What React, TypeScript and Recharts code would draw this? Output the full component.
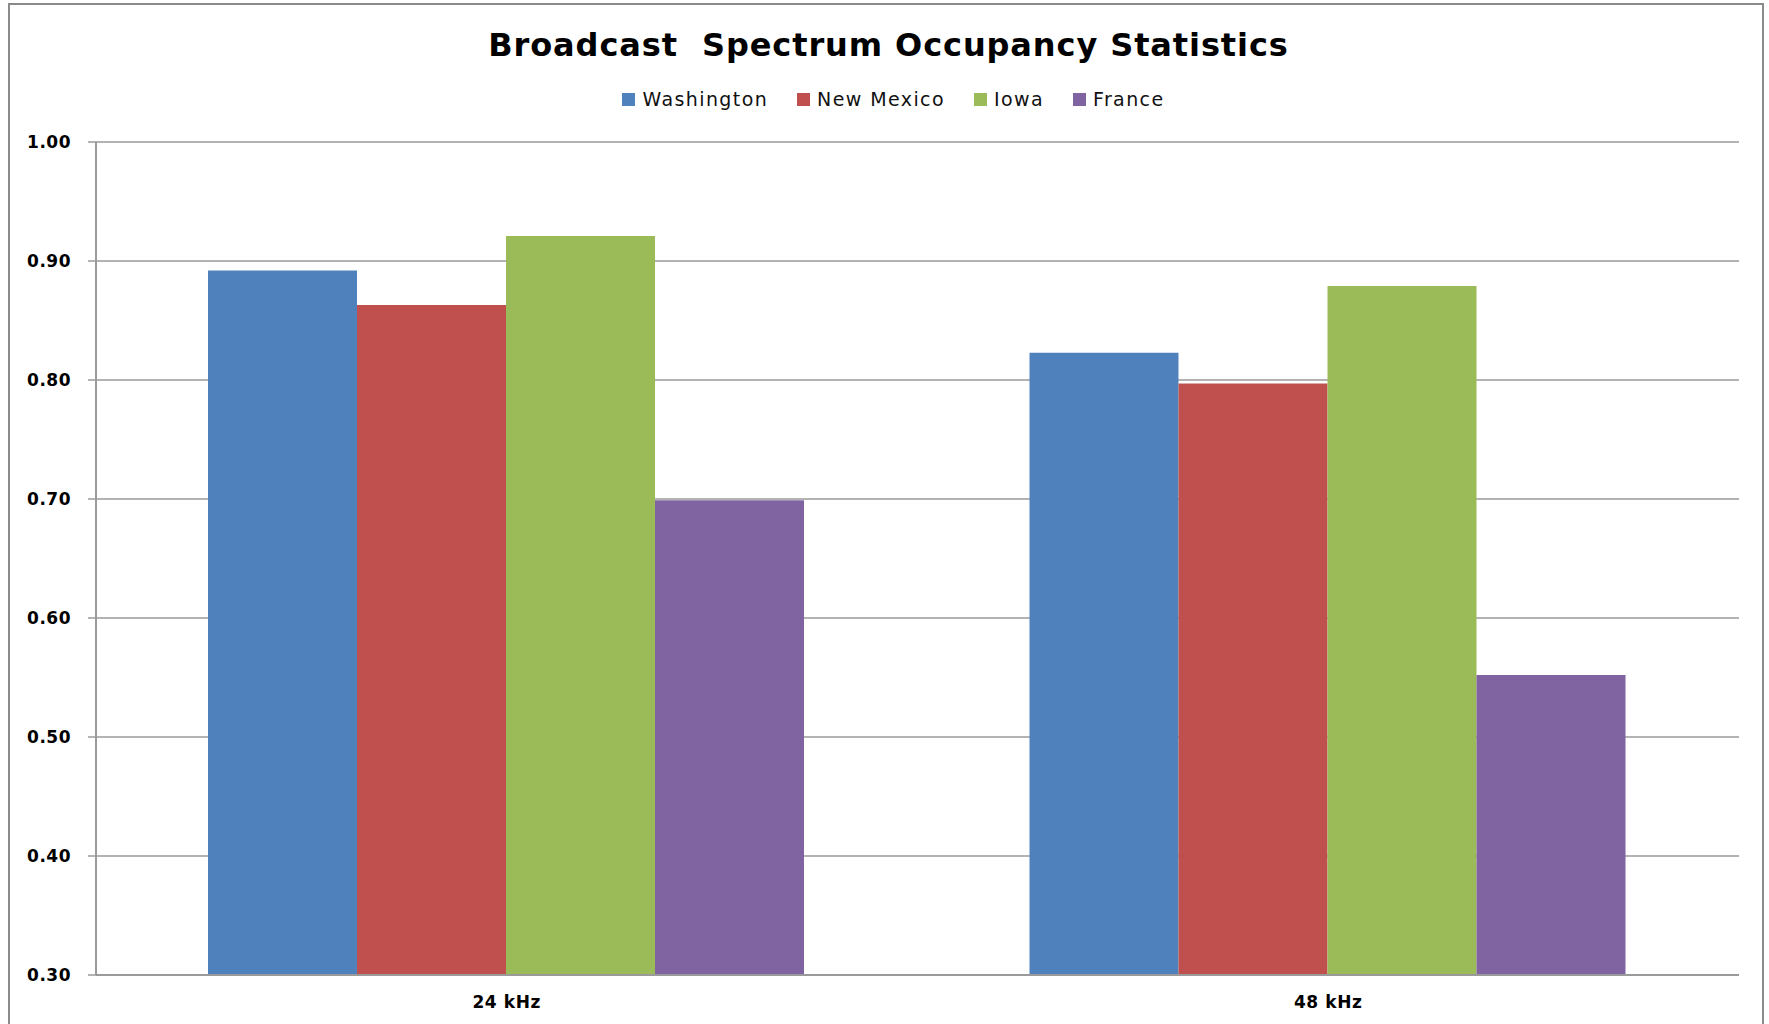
import React from 'react'
import { BarChart, Bar, XAxis, YAxis, CartesianGrid, Legend } from 'recharts'

const categories = ['24 kHz', '48 kHz']
const seriesNames = ['Washington', 'New Mexico', 'Iowa', 'France']
const seriesColors = ['#4F81BD', '#C0504D', '#9BBB59', '#8064A2']

const washington = [0.892, 0.823]
const newMexico = [0.863, 0.797]
const iowa = [0.921, 0.879]
const france = [0.699, 0.552]

const yTicks = [0.3, 0.4, 0.5, 0.6, 0.7, 0.8, 0.9, 1.0]

const seriesValues = [washington, newMexico, iowa, france]

const data = categories.map((c, i) => {
    const row: any = { name: c }
    seriesNames.forEach((s, j) => row[s] = seriesValues[j][i])
    return row
})

const FONT = '"DejaVu Sans", Verdana, sans-serif'
const GRID = '#9a9a9a'

function CatTick(props: any) {
    return (
        <text x={props.x} y={props.y + 20} textAnchor="middle" dominantBaseline="central"
            fontFamily={FONT} fontWeight="bold" fontSize={17} fill="#000" letterSpacing={0.6}>
            {props.payload.value}
        </text>
    )
}

function LegendBox() {
    return (
        <div style={{ display: 'flex', justifyContent: 'center', alignItems: 'center', paddingLeft: 18, fontFamily: FONT, fontSize: 19, letterSpacing: 1.4, color: '#111' }}>
            {seriesNames.map((s, i) => (
                <div key={s} style={{ display: 'flex', alignItems: 'center', marginRight: i < seriesNames.length - 1 ? 29 : 0 }}>
                    <div style={{ width: 13, height: 13, background: seriesColors[i], marginRight: 7 }} />
                    <span>{s}</span>
                </div>
            ))}
        </div>
    )
}

export default function App() {
    return (
        <div style={{ position: 'absolute', left: 0, top: 0, width: 1769, height: 1024, overflow: 'hidden', background: '#fff' }}>
            <div style={{ position: 'absolute', left: 8, top: 3, width: 1756, height: 1040, border: '2.5px solid #8a8a8a', boxSizing: 'border-box' }} />
            <div style={{ position: 'absolute', left: 4, top: 26, width: 1769, textAlign: 'center', fontFamily: FONT, fontWeight: 'bold', fontSize: 32, letterSpacing: 0.9, color: '#000' }}>
                Broadcast&nbsp; Spectrum Occupancy Statistics
            </div>
            <BarChart width={1769} height={1024} data={data}
                margin={{ top: 142, right: 30, bottom: 0, left: 0 }}
                barCategoryGap={112} barGap={0}>
                <CartesianGrid horizontal vertical={false} stroke={GRID} strokeWidth={1.5} />
                <XAxis xAxisId="a_edge" type="number" domain={[0, 2]} ticks={[0, 1, 2]} allowDataOverflow
                    tick={false} tickSize={7} height={7}
                    tickLine={{ stroke: GRID, strokeWidth: 1.5 }} axisLine={{ stroke: GRID, strokeWidth: 2 }} />
                <XAxis xAxisId="b_cat" dataKey="name" height={42} tickLine={false} axisLine={false}
                    tickSize={0} tickMargin={0} tick={<CatTick />} interval={0} />
                <YAxis width={96} domain={[0.3, 1.0]} ticks={yTicks} allowDataOverflow
                    tickFormatter={(v: number) => v.toFixed(2)}
                    tickSize={8} tickMargin={17}
                    tickLine={{ stroke: GRID, strokeWidth: 1.5 }} axisLine={{ stroke: GRID, strokeWidth: 2 }}
                    tick={{ fontFamily: FONT, fontWeight: 'bold', fontSize: 17, fill: '#000', letterSpacing: 0.5 }} />
                <Legend layout="horizontal" verticalAlign="middle" align="center"
                    wrapperStyle={{ top: 88, left: 0, width: 1769 }} content={<LegendBox />} />
                {seriesNames.map((s, i) => (
                    <Bar key={s} xAxisId="b_cat" dataKey={s} fill={seriesColors[i]} isAnimationActive={false} />
                ))}
            </BarChart>
        </div>
    )
}
